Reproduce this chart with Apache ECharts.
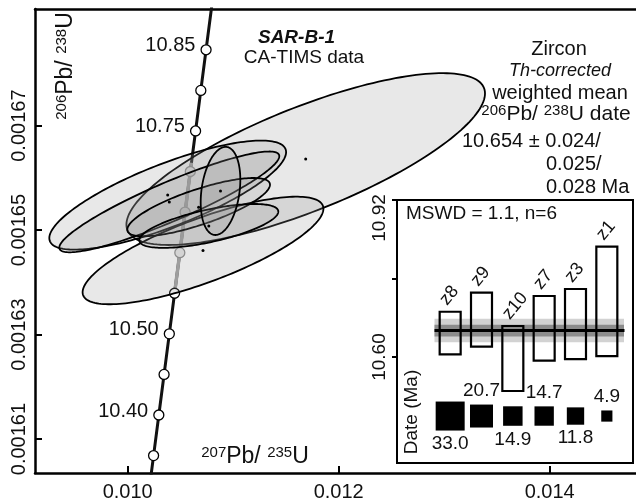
<!DOCTYPE html>
<html><head><meta charset="utf-8">
<script src="https://cdn.jsdelivr.net/npm/echarts@6/dist/echarts.min.js"></script>
<style>html,body{margin:0;padding:0;background:#fff}#c{width:636px;height:502px}</style>
</head><body><div id="c"></div>
<script>
// ---- Concordia ----
const concordiaAge = [10.30,10.35,10.40,10.45,10.50,10.55,10.60,10.65,10.70,10.75,10.80,10.85,10.90,10.95];
const concordiaX = [0.0101956,0.0102453,0.0102951,0.0103448,0.0103946,0.0104443,0.0104941,0.0105439,0.0105936,0.0106434,0.0106931,0.0107429,0.0107927,0.0108425];
const concordiaY = [0.00159906,0.00160683,0.00161460,0.00162237,0.00163014,0.00163791,0.00164568,0.00165345,0.00166122,0.00166898,0.00167675,0.00168452,0.00169229,0.00170006];
const markerAges = [10.35,10.40,10.45,10.50,10.55,10.60,10.65,10.70,10.75,10.80,10.85];
const labelledAges = [10.40,10.50,10.75,10.85];
const hiddenAges = [10.60,10.65,10.70];
const insideX = [0.0104443,0.0106046];
const insideY = [0.00163791,0.0016629];

// ---- Ellipses: centre, 2-sigma x, 2-sigma y, correlation ----
const ellipseX   = [0.0116873,0.0107138,0.0103792,0.0103943,0.0106725,0.0107688,0.0108797];
const ellipseY   = [0.0016636,0.0016461,0.0016567,0.0016554,0.0016544,0.0016508,0.0016575];
const ellipseSX  = [0.0016996,0.0011413,0.0011223,0.0010427,0.0006763,0.0006588,0.0001878];
const ellipseSY  = [1.6447e-5,1.0296e-5,1.0439e-5,9.646e-6,5.578e-6,4.202e-6,8.434e-6];
const ellipseRho = [0.763,0.776,0.788,0.907,0.77,0.654,0.255];

const xTicks = [0.010,0.012,0.014];
const yTicks = [0.00161,0.00163,0.00165,0.00167];

// ---- Inset: weighted mean ----
const fractions = ['z8','z9','z10','z7','z3','z1'];
const dateLow  = [10.6055,10.6210,10.5307,10.5925,10.5959,10.6020];
const dateHigh = [10.6923,10.7311,10.6632,10.7243,10.7386,10.8248];
const weights  = [33.0,20.7,14.9,14.7,11.8,4.9];
const meanDate = 10.654;
const meanErrOuter = 0.024;
const meanErrInner = 0.012;
const insetTicks = [10.60,10.76,10.92];
const insetLabels = [10.60,10.92];

const FONT = '"Liberation Sans", Arial, sans-serif';
const chart = echarts.init(document.getElementById('c'), null, {renderer:'canvas'});

const near = (a, b) => Math.abs(a - b) < 1e-6;
const markerData = [];
concordiaAge.forEach((age, i) => {
  if (!markerAges.some(a => near(a, age))) return;
  const hid = hiddenAges.some(a => near(a, age));
  const lab = labelledAges.some(a => near(a, age));
  markerData.push({
    value: [concordiaX[i], concordiaY[i]],
    itemStyle: hid ? {color:'#e6e6e6', borderColor:'#8a8a8a'} : {color:'#fff', borderColor:'#000'},
    label: {show: lab, formatter: age.toFixed(2)}
  });
});

const ellipseData = ellipseX.map((x, i) => [x, ellipseY[i], ellipseSX[i], ellipseSY[i], ellipseRho[i]]);

const option = {
  animation: false,
  textStyle: {fontFamily: FONT},
  grid: [
    {left: 35, right: 0, top: 9, bottom: 28},
    {left: 434.5, top: 200, width: 188, height: 263}
  ],
  xAxis: [
    {type:'value', gridIndex:0, min:0.0091213, max:0.0148182, position:'bottom',
     axisLine:{show:true, lineStyle:{color:'#000', width:2.5}},
     axisTick:{show:true, inside:true, length:7, customValues:xTicks, lineStyle:{color:'#000', width:2}},
     axisLabel:{customValues:xTicks, formatter:v => v.toFixed(3), fontSize:20, color:'#111', margin:9, fontFamily:FONT},
     splitLine:{show:false}},
    {type:'value', gridIndex:0, min:0.0091213, max:0.0148182, position:'top',
     axisLine:{show:true, onZero:false, lineStyle:{color:'#000', width:2.5}},
     axisTick:{show:false}, axisLabel:{show:false}, splitLine:{show:false}},
    {type:'category', gridIndex:1, data:fractions, show:false}
  ],
  yAxis: [
    {type:'value', gridIndex:0, min:0.0016035, max:0.00169233,
     axisLine:{show:true, lineStyle:{color:'#000', width:2.5}},
     axisTick:{show:true, inside:true, length:7, customValues:yTicks, lineStyle:{color:'#000', width:2}},
     axisLabel:{customValues:yTicks, formatter:v => v.toFixed(5), rotate:90, fontSize:20, color:'#111', margin:6, fontFamily:FONT},
     splitLine:{show:false}},
    {type:'value', gridIndex:1, min:10.384, max:10.92, offset:37.5,
     axisLine:{show:false},
     axisTick:{show:true, inside:false, length:5, customValues:insetTicks, lineStyle:{color:'#000', width:2}},
     axisLabel:{customValues:insetLabels, rotate:90, fontSize:19, color:'#111', margin:8, fontFamily:FONT,
       formatter: v => near(v, insetLabels[insetLabels.length-1]) ? '{t|' + v.toFixed(2) + '}' : v.toFixed(2),
       rich:{t:{fontSize:19, fontFamily:FONT, color:'#111', padding:[0,36,0,0]}}},
     splitLine:{show:false}}
  ],
  series: [
    {type:'line', xAxisIndex:0, yAxisIndex:0, z:2, silent:true, showSymbol:false, clip:true,
     data: concordiaX.map((x, i) => [x, concordiaY[i]]),
     lineStyle:{color:'#111', width:3}},
    {type:'line', xAxisIndex:0, yAxisIndex:0, z:2, silent:true, showSymbol:false, clip:true,
     data: insideX.map((x, i) => [x, insideY[i]]),
     lineStyle:{color:'#a0a0a0', width:3.4}},
    {type:'scatter', xAxisIndex:0, yAxisIndex:0, z:2, silent:true, symbol:'circle', symbolSize:10,
     data: markerData,
     itemStyle:{borderWidth:1.3, opacity:1},
     label:{position:'left', distance:5, offset:[0,-4], fontSize:20, color:'#111', opacity:1, fontFamily:FONT}},
    {type:'custom', xAxisIndex:0, yAxisIndex:0, z:3, silent:true, clip:true,
     data: ellipseData, encode:{x:0, y:1},
     renderItem: (params, api) => {
       const cx = api.value(0), cy = api.value(1), sx = api.value(2), sy = api.value(3), r = api.value(4);
       const q = Math.sqrt(1 - r * r);
       const pts = [];
       for (let k = 0; k < 180; k++) {
         const t = 2 * Math.PI * k / 180;
         pts.push(api.coord([cx + sx * Math.cos(t), cy + sy * (r * Math.cos(t) + q * Math.sin(t))]));
       }
       return {type:'polygon', shape:{points:pts}, style:{fill:'rgba(150,150,150,0.22)', stroke:'#000', lineWidth:1.8}};
     }},
    {type:'scatter', xAxisIndex:0, yAxisIndex:0, z:4, silent:true, symbolSize:3,
     data: ellipseX.map((x, i) => [x, ellipseY[i]]), itemStyle:{color:'#000', opacity:1}},
    // inset bands
    {type:'custom', xAxisIndex:2, yAxisIndex:1, z:10, silent:true, clip:false,
     data:[[0, meanDate, meanErrOuter, meanErrInner]], encode:{x:0, y:1},
     renderItem: (params, api) => {
       const cs = params.coordSys;
       const m = api.value(1), eo = api.value(2), ei = api.value(3);
       const yo1 = api.coord([0, m + eo])[1], yo2 = api.coord([0, m - eo])[1];
       const yi1 = api.coord([0, m + ei])[1], yi2 = api.coord([0, m - ei])[1];
       return {type:'group', children:[
         {type:'rect', shape:{x:cs.x, y:yo1, width:cs.width + 1.5, height:yo2 - yo1}, style:{fill:'#d2d2d2'}},
         {type:'rect', shape:{x:cs.x, y:yi1, width:cs.width + 1.5, height:yi2 - yi1}, style:{fill:'#8c8c8c'}}
       ]};
     }},
    // inset bars
    {type:'custom', xAxisIndex:2, yAxisIndex:1, z:11, silent:true, clip:false,
     data: fractions.map((f, i) => [i, dateLow[i], dateHigh[i]]), encode:{x:0, y:[1,2]},
     renderItem: (params, api) => {
       const i = api.value(0);
       const p1 = api.coord([i, api.value(2)]);
       const p2 = api.coord([i, api.value(1)]);
       const w = api.size([1, 0])[0] * 0.67;
       return {type:'group', children:[
         {type:'rect', shape:{x:p1[0] - w / 2, y:p1[1], width:w, height:p2[1] - p1[1]},
          style:{fill:'none', stroke:'#000', lineWidth:2.2}},
         {type:'text', x:p1[0] - 7, y:p1[1] - 9, rotation: 50 * Math.PI / 180,
          style:{text: fractions[i], fontSize:18, fontFamily:FONT, fill:'#111', align:'left', verticalAlign:'middle'}}
       ]};
     }},
    // inset mean line
    {type:'custom', xAxisIndex:2, yAxisIndex:1, z:12, silent:true, clip:false,
     data:[[0, meanDate]], encode:{x:0, y:1},
     renderItem: (params, api) => {
       const cs = params.coordSys;
       const y = api.coord([0, api.value(1)])[1];
       return {type:'line', shape:{x1:cs.x, y1:y, x2:cs.x + cs.width + 2, y2:y}, style:{stroke:'#000', lineWidth:3}};
     }},
    // inset weight squares
    {type:'scatter', xAxisIndex:2, yAxisIndex:1, z:12, silent:true, symbol:'rect',
     data: weights.map((w, i) => ({value:[i, 10.4797], symbolSize: 5.05 * Math.sqrt(w),
       label:{position: i % 2 ? 'top' : 'bottom'}})),
     itemStyle:{color:'#000', opacity:1},
     label:{show:true, formatter: p => weights[p.dataIndex].toFixed(1), distance:4, fontSize:19, color:'#111', opacity:1, fontFamily:FONT}}
  ],
  graphic: [
    {type:'rect', z:5, silent:true, shape:{x:397, y:200, width:236, height:263}, style:{fill:'#fff', stroke:'#000', lineWidth:2}},
    {type:'text', z:20, x:406, y:214, style:{text:'MSWD = 1.1, n=6', fontSize:19, fontFamily:FONT, fill:'#111', align:'left', verticalAlign:'middle'}},
    {type:'text', z:20, x:412, y:412, rotation:Math.PI/2, style:{text:'Date (Ma)', fontSize:19, fontFamily:FONT, fill:'#111', align:'center', verticalAlign:'middle'}},
    {type:'text', z:20, x:296.5, y:38, style:{text:'SAR-B-1', fontSize:19, fontWeight:'bold', fontStyle:'italic', fontFamily:FONT, fill:'#111', align:'center', verticalAlign:'middle'}},
    {type:'text', z:20, x:304, y:58, style:{text:'CA-TIMS data', fontSize:19, fontFamily:FONT, fill:'#111', align:'center', verticalAlign:'middle'}},
    {type:'text', z:20, x:559, y:49, style:{text:'Zircon', fontSize:20, fontFamily:FONT, fill:'#111', align:'center', verticalAlign:'middle'}},
    {type:'text', z:20, x:560, y:71, style:{text:'Th-corrected', fontSize:18, fontStyle:'italic', fontFamily:FONT, fill:'#111', align:'center', verticalAlign:'middle'}},
    {type:'text', z:20, x:560, y:93, style:{text:'weighted mean', fontSize:20, fontFamily:FONT, fill:'#111', align:'center', verticalAlign:'middle'}},
    {type:'text', z:20, x:556, y:114, style:{text:'{s|206}{m|Pb/ }{s|238}{m|U date}', align:'center', verticalAlign:'middle',
      rich:{s:{fontSize:15, fontFamily:FONT, fill:'#111', verticalAlign:'top'}, m:{fontSize:21, fontFamily:FONT, fill:'#111', verticalAlign:'bottom'}}}},
    {type:'text', z:20, x:462, y:141, style:{text:'10.654 ± 0.024/', fontSize:20, fontFamily:FONT, fill:'#111', align:'left', verticalAlign:'middle'}},
    {type:'text', z:20, x:546, y:164, style:{text:'0.025/', fontSize:20, fontFamily:FONT, fill:'#111', align:'left', verticalAlign:'middle'}},
    {type:'text', z:20, x:546, y:187, style:{text:'0.028 Ma', fontSize:20, fontFamily:FONT, fill:'#111', align:'left', verticalAlign:'middle'}},
    {type:'text', z:20, x:66, y:66, rotation:Math.PI/2, style:{text:'{s|206}{m|Pb/ }{s|238}{m|U}', align:'center', verticalAlign:'middle',
      rich:{s:{fontSize:15, fontFamily:FONT, fill:'#111', verticalAlign:'top'}, m:{fontSize:23, fontFamily:FONT, fill:'#111', verticalAlign:'bottom'}}}},
    {type:'text', z:20, x:255, y:457, style:{text:'{s|207}{m|Pb/ }{s|235}{m|U}', align:'center', verticalAlign:'middle',
      rich:{s:{fontSize:15, fontFamily:FONT, fill:'#111', verticalAlign:'top'}, m:{fontSize:23, fontFamily:FONT, fill:'#111', verticalAlign:'bottom'}}}}
  ]
};
chart.setOption(option);
</script>
</body></html>
